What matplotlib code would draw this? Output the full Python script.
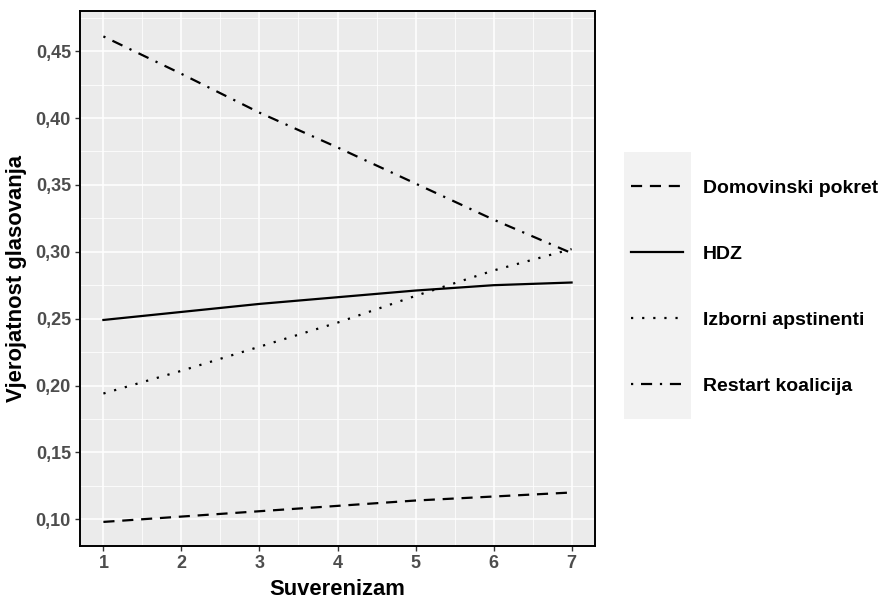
"""Predicted voting probability by sovereignism score, ggplot-like line chart."""

import matplotlib

matplotlib.use("Agg")
import matplotlib.pyplot as plt
from matplotlib.patches import Rectangle
from matplotlib.ticker import FuncFormatter, MultipleLocator

plt.rcParams["font.family"] = ["Liberation Sans", "DejaVu Sans"]

suverenizam = [1, 2, 3, 4, 5, 6, 7]
domovinski_pokret = [0.098, 0.102, 0.106, 0.110, 0.114, 0.117, 0.120]
hdz = [0.249, 0.255, 0.261, 0.266, 0.271, 0.275, 0.277]
izborni_apstinenti = [0.194, 0.211, 0.229, 0.247, 0.267, 0.286, 0.302]
restart_koalicija = [0.461, 0.433, 0.404, 0.378, 0.351, 0.324, 0.299]

series_names = ["Domovinski pokret", "HDZ", "Izborni apstinenti", "Restart koalicija"]
y_ticks = [0.10, 0.15, 0.20, 0.25, 0.30, 0.35, 0.40, 0.45]

LINE_STYLES = {
    "Domovinski pokret": (0, (5, 3.5)),
    "HDZ": "-",
    "Izborni apstinenti": (0, (1, 4)),
    "Restart koalicija": (0, (1, 3.5, 5, 3.5)),
}

# panel placement in pixels of the 884x600 canvas
P_LEFT, P_RIGHT, P_TOP, P_BOTTOM = 80, 595, 11, 546

fig = plt.figure(figsize=(8.84, 6.0), dpi=100)
ax = fig.add_axes([P_LEFT / 884, 1 - P_BOTTOM / 600,
                   (P_RIGHT - P_LEFT) / 884, (P_BOTTOM - P_TOP) / 600])
ax.set_facecolor("#EBEBEB")

for name, values in zip(
    series_names, [domovinski_pokret, hdz, izborni_apstinenti, restart_koalicija]
):
    ax.plot(
        suverenizam,
        values,
        color="black",
        linewidth=1.6,
        linestyle=LINE_STYLES[name],
        label=name,
        dash_capstyle="butt",
    )

ax.set_xlim(0.7, 7.3)
ax.set_ylim(0.080, 0.480)
ax.set_xticks(suverenizam)
ax.set_yticks(y_ticks)
ax.xaxis.set_minor_locator(MultipleLocator(0.5))
ax.yaxis.set_minor_locator(MultipleLocator(0.025))
ax.yaxis.set_major_formatter(FuncFormatter(lambda v, _: f"{v:.2f}".replace(".", ",")))

ax.grid(which="major", color="white", linewidth=1.1)
ax.grid(which="minor", color="white", linewidth=0.55)
ax.set_axisbelow(True)
for spine in ax.spines.values():
    spine.set_color("black")
    spine.set_linewidth(1.4)

ax.tick_params(which="major", length=3.5, width=1, color="#333333",
               labelsize=13, labelcolor="#4D4D4D", pad=3)
ax.tick_params(which="minor", length=0)
for label in ax.get_xticklabels() + ax.get_yticklabels():
    label.set_fontweight("bold")

ax.set_xlabel("Suverenizam", fontsize=15.8, fontweight="bold")
ax.set_ylabel("Vjerojatnost glasovanja", fontsize=15.8, fontweight="bold")
ax.xaxis.set_label_coords(0.5, (P_BOTTOM - 579) / (P_BOTTOM - P_TOP))
ax.yaxis.set_label_coords((27 - P_LEFT) / (P_RIGHT - P_LEFT), 0.5)

# grey strip behind the legend keys, like ggplot's legend.key background
fig.patches.append(
    Rectangle((624 / 884, 1 - 419 / 600), 67 / 884, 267 / 600,
              transform=fig.transFigure, facecolor="#F2F2F2",
              edgecolor="none", zorder=0)
)
legend = fig.legend(
    loc="center left",
    bbox_to_anchor=(623 / 884, 1 - 287 / 600),
    frameon=False,
    fontsize=14,
    handlelength=2.68,
    handletextpad=1.03,
    labelspacing=2.49,
    borderaxespad=0,
)
for text in legend.get_texts():
    text.set_fontweight("bold")

fig.savefig("out.png", dpi=100)
